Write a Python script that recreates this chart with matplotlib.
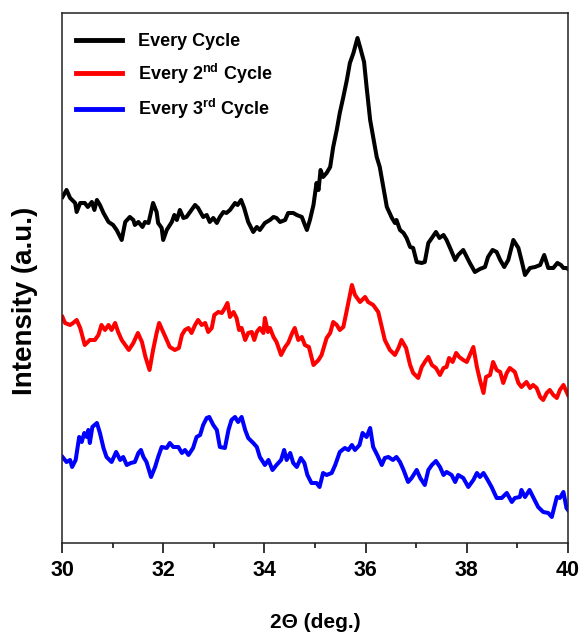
import matplotlib
matplotlib.use("Agg")
import matplotlib.pyplot as plt
from matplotlib.ticker import MultipleLocator

# 2-theta (deg) and intensity (a.u., stacked offsets as in the figure)
x_every = [30.01, 30.09, 30.16, 30.26, 30.29, 30.36, 30.45, 30.51, 30.59, 30.64, 30.69, 30.75, 30.82, 30.92,
           31.01, 31.08, 31.18, 31.25, 31.34, 31.41, 31.44, 31.51, 31.59, 31.64, 31.71, 31.80, 31.87, 31.90,
           31.97, 32.00, 32.07, 32.17, 32.22, 32.27, 32.33, 32.40, 32.46, 32.53, 32.63, 32.69, 32.79, 32.86,
           32.92, 32.99, 33.06, 33.12, 33.19, 33.25, 33.32, 33.42, 33.47, 33.54, 33.60, 33.68, 33.78, 33.85,
           33.91, 34.01, 34.11, 34.18, 34.24, 34.31, 34.41, 34.47, 34.57, 34.64, 34.74, 34.80, 34.84, 34.90,
           34.97, 35.03, 35.07, 35.11, 35.16, 35.23, 35.30, 35.36, 35.43, 35.49, 35.56, 35.63, 35.69, 35.76,
           35.84, 35.89, 35.97, 36.02, 36.09, 36.15, 36.22, 36.28, 36.35, 36.42, 36.52, 36.58, 36.61, 36.68,
           36.75, 36.81, 36.88, 36.94, 37.01, 37.11, 37.17, 37.24, 37.31, 37.39, 37.46, 37.54, 37.60, 37.67,
           37.77, 37.83, 37.93, 38.00, 38.06, 38.16, 38.26, 38.36, 38.42, 38.51, 38.59, 38.66, 38.74, 38.82,
           38.92, 39.02, 39.08, 39.15, 39.25, 39.35, 39.45, 39.53, 39.61, 39.71, 39.79, 39.86, 39.91, 39.97, 40.00]
y_every = [346, 353, 345, 340, 331, 340, 340, 336, 341, 333, 343, 338, 330, 321,
           318, 313, 303, 321, 326, 323, 318, 321, 316, 321, 320, 340, 331, 320,
           315, 303, 313, 321, 328, 323, 333, 325, 326, 331, 338, 335, 326, 328,
           321, 325, 320, 326, 331, 330, 333, 340, 338, 343, 335, 321, 311, 316,
           313, 320, 323, 326, 325, 321, 323, 330, 330, 328, 326, 318, 313, 323,
           338, 360, 353, 373, 366, 370, 376, 396, 413, 430, 446, 463, 480, 490,
           505, 496, 481, 456, 423, 406, 386, 376, 356, 336, 325, 320, 323, 313,
           310, 305, 296, 295, 281, 280, 281, 300, 305, 311, 305, 308, 303, 295,
           283, 288, 293, 286, 280, 271, 274, 276, 286, 293, 291, 283, 276, 283,
           303, 295, 283, 268, 275, 276, 278, 288, 275, 275, 280, 278, 275, 275, 274]

x_2nd = [30.01, 30.06, 30.16, 30.22, 30.29, 30.36, 30.45, 30.55, 30.65, 30.72, 30.78, 30.85, 30.92, 30.98,
         31.05, 31.11, 31.18, 31.25, 31.32, 31.41, 31.50, 31.58, 31.65, 31.73, 31.80, 31.87, 31.92, 32.00,
         32.07, 32.13, 32.23, 32.31, 32.37, 32.43, 32.50, 32.56, 32.63, 32.69, 32.76, 32.83, 32.89, 32.96,
         33.01, 33.09, 33.16, 33.22, 33.27, 33.32, 33.39, 33.45, 33.50, 33.55, 33.62, 33.68, 33.75, 33.80,
         33.85, 33.91, 33.98, 34.01, 34.07, 34.11, 34.18, 34.24, 34.33, 34.41, 34.47, 34.55, 34.60, 34.67,
         34.74, 34.80, 34.88, 34.97, 35.07, 35.13, 35.23, 35.30, 35.36, 35.43, 35.49, 35.56, 35.63, 35.73,
         35.79, 35.89, 35.99, 36.05, 36.15, 36.25, 36.32, 36.38, 36.48, 36.58, 36.65, 36.71, 36.80, 36.88,
         36.94, 37.04, 37.11, 37.17, 37.24, 37.31, 37.39, 37.47, 37.54, 37.60, 37.65, 37.72, 37.79, 37.85,
         37.93, 38.00, 38.06, 38.13, 38.20, 38.26, 38.33, 38.38, 38.46, 38.52, 38.59, 38.66, 38.72, 38.79,
         38.85, 38.95, 39.02, 39.08, 39.18, 39.25, 39.31, 39.38, 39.45, 39.51, 39.58, 39.64, 39.71, 39.78,
         39.84, 39.91, 40.00]
y_2nd = [226, 220, 218, 220, 223, 215, 198, 203, 203, 208, 218, 213, 218, 213,
         220, 211, 203, 198, 193, 200, 210, 201, 186, 173, 193, 210, 220, 211,
         203, 196, 193, 195, 208, 213, 215, 210, 218, 223, 218, 220, 211, 215,
         228, 231, 230, 235, 240, 226, 231, 225, 213, 215, 203, 210, 211, 203,
         211, 215, 210, 225, 211, 215, 206, 201, 188, 196, 200, 210, 215, 203,
         206, 198, 196, 178, 183, 188, 205, 210, 221, 218, 213, 216, 233, 258,
         248, 241, 246, 241, 238, 231, 216, 203, 193, 188, 195, 203, 195, 178,
         170, 165, 176, 181, 186, 178, 175, 168, 175, 176, 185, 181, 190, 186,
         183, 181, 188, 196, 176, 163, 150, 166, 168, 181, 173, 171, 160, 170,
         175, 171, 160, 156, 161, 155, 158, 155, 146, 143, 150, 153, 148, 145,
         153, 158, 148]

x_3rd = [30.01, 30.09, 30.16, 30.20, 30.27, 30.34, 30.39, 30.44, 30.49, 30.52, 30.55, 30.60, 30.69, 30.75,
         30.82, 30.88, 30.98, 31.07, 31.15, 31.21, 31.28, 31.36, 31.44, 31.51, 31.56, 31.61, 31.67, 31.76,
         31.84, 31.90, 31.97, 32.07, 32.13, 32.20, 32.30, 32.37, 32.43, 32.50, 32.59, 32.66, 32.73, 32.79,
         32.86, 32.91, 32.99, 33.06, 33.12, 33.22, 33.29, 33.35, 33.42, 33.48, 33.55, 33.62, 33.68, 33.78,
         33.85, 33.91, 34.01, 34.08, 34.16, 34.24, 34.33, 34.39, 34.44, 34.51, 34.57, 34.64, 34.72, 34.79,
         34.85, 34.93, 35.03, 35.09, 35.16, 35.23, 35.33, 35.40, 35.49, 35.59, 35.66, 35.73, 35.79, 35.88,
         35.94, 36.02, 36.09, 36.15, 36.23, 36.32, 36.38, 36.45, 36.54, 36.61, 36.68, 36.75, 36.84, 36.91,
         37.01, 37.08, 37.17, 37.24, 37.31, 37.39, 37.47, 37.54, 37.60, 37.70, 37.77, 37.83, 37.93, 38.03,
         38.13, 38.20, 38.26, 38.33, 38.39, 38.49, 38.59, 38.69, 38.79, 38.89, 38.95, 39.05, 39.08, 39.15,
         39.24, 39.31, 39.41, 39.51, 39.61, 39.68, 39.78, 39.84, 39.91, 39.97, 40.00]
y_3rd = [86, 81, 83, 76, 83, 106, 101, 110, 106, 113, 100, 116, 120, 110,
         95, 86, 81, 91, 83, 86, 78, 80, 81, 90, 93, 86, 81, 66,
         76, 86, 96, 95, 100, 96, 96, 90, 93, 88, 95, 106, 108, 118,
         125, 126, 118, 113, 96, 95, 113, 123, 126, 121, 126, 113, 105, 100,
         96, 86, 78, 83, 73, 78, 83, 93, 83, 90, 80, 76, 85, 80,
         68, 60, 60, 56, 70, 68, 70, 78, 91, 95, 93, 98, 93, 98,
         110, 106, 115, 96, 88, 78, 85, 86, 83, 86, 81, 73, 61, 65,
         73, 65, 58, 73, 78, 82, 76, 68, 71, 68, 61, 68, 65, 56,
         63, 70, 66, 70, 65, 56, 45, 45, 50, 41, 45, 46, 53, 46,
         53, 46, 36, 31, 30, 26, 46, 45, 51, 35, 33]

labels = ['Every Cycle', r'Every 2$^{\mathbf{nd}}$ Cycle', r'Every 3$^{\mathbf{rd}}$ Cycle']
colors = ['black', '#ff0000', '#0000ff']

plt.rcParams['font.family'] = ['Liberation Sans', 'DejaVu Sans']
plt.rcParams['mathtext.fontset'] = 'custom'
plt.rcParams['mathtext.bf'] = 'Liberation Sans:bold'

fig = plt.figure(figsize=(5.81, 6.33), dpi=100)
ax = fig.add_axes([0.1067, 0.1422, 0.8709, 0.8373])

series = [(x_every, y_every), (x_2nd, y_2nd), (x_3rd, y_3rd)]
for (xs, ys), lab, c in zip(series, labels, colors):
    ax.plot(xs, ys, color=c, lw=2.9, label=lab, solid_joinstyle='round')

ax.set_xlim(30, 40)
ax.set_ylim(0, 530)
ax.set_yticks([])
ax.xaxis.set_major_locator(MultipleLocator(2))
ax.xaxis.set_minor_locator(MultipleLocator(1))
ax.tick_params(axis='x', which='major', direction='out', length=7, width=1.1, pad=5)
ax.tick_params(axis='x', which='minor', direction='out', length=3.5, width=1.1)
for s in ax.spines.values():
    s.set_linewidth(1.1)
    s.set_color('#222222')

for t in ax.get_xticklabels():
    t.set_fontweight('bold')
    t.set_fontsize(15.5)

fig.text(315 / 581, 1 - 622 / 633, '2\u0398 (deg.)', ha='center', va='center',
         fontsize=15, fontweight='bold')
fig.text(25 / 581, 1 - 301 / 633, 'Intensity (a.u.)', ha='center', va='center',
         rotation=90, fontsize=20, fontweight='bold')

leg = ax.legend(loc='upper left', bbox_to_anchor=(0.016, 0.972), frameon=False,
                prop={'weight': 'bold', 'size': 13},
                handlelength=2.55, handletextpad=0.9, labelspacing=0.62,
                borderaxespad=0, borderpad=0.3)
for h in leg.get_lines():
    h.set_linewidth(3.5)

fig.savefig('out.png', dpi=100)
